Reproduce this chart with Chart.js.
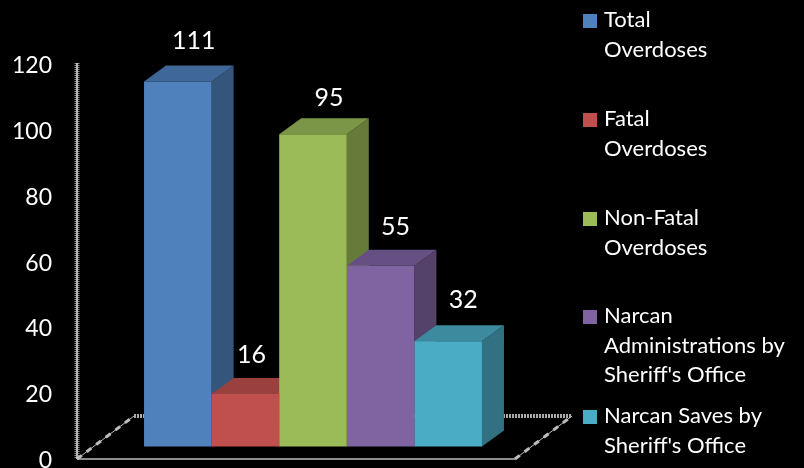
<!DOCTYPE html>
<html>
<head>
<meta charset="utf-8">
<style>html,body{margin:0;padding:0;background:#000;overflow:hidden}#wrap{width:804px;height:468px}</style>
<script src="https://cdn.jsdelivr.net/npm/chart.js@4"></script>
</head>
<body>
<div id="wrap"><canvas id="c" width="804" height="468"></canvas></div>
<script>
const categories = [""];
const seriesNames = ["Total Overdoses", "Fatal Overdoses", "Non-Fatal Overdoses", "Narcan Administrations by Sheriff's Office", "Narcan Saves by Sheriff's Office"];
const legendLines = [["Total", "Overdoses"], ["Fatal", "Overdoses"], ["Non-Fatal", "Overdoses"], ["Narcan", "Administrations by", "Sheriff's Office"], ["Narcan Saves by", "Sheriff's Office"]];
const seriesValues = [111, 16, 95, 55, 32];
const frontColors = ["#4F81BD", "#C0504D", "#9BBB59", "#8064A2", "#4BACC6"];
const topColors = ["#3F6797", "#9A403E", "#7C9647", "#664F82", "#3C8A9E"];
const sideColors = ["#34557C", "#7F3533", "#667B3A", "#54426B", "#317182"];
const labelNudges = [16, 6, 16, 15, 15];
const labelLifts = [25, 23, 20, 23, 25];
const tickMin = 0, tickMax = 120, tickStep = 20;

const FONT = "Lato, Carlito, 'Open Sans', sans-serif";
const DEPTH_X = 22, DEPTH_Y = 16;
const AXIS_X = 77, AXIS_TOP = 63, FLOOR_FRONT = 459, FLOOR_BACK = 416, FLOOR_RIGHT = 515, FLOOR_DX = 57;

function poly(ctx, pts, fill) {
  ctx.beginPath();
  pts.forEach((p, i) => i ? ctx.lineTo(p[0], p[1]) : ctx.moveTo(p[0], p[1]));
  ctx.closePath();
  ctx.fillStyle = fill;
  ctx.fill();
}

function seg(ctx, x0, y0, x1, y1) {
  ctx.beginPath(); ctx.moveTo(x0, y0); ctx.lineTo(x1, y1); ctx.stroke();
}

const floorPlugin = {
  id: "floor",
  beforeDatasetsDraw(chart) {
    const ctx = chart.ctx;
    ctx.save();
    /* value axis: a speckled grey rail */
    ctx.strokeStyle = "#8E8E8E";
    ctx.lineWidth = 5;
    ctx.setLineDash([1, 1]);
    seg(ctx, AXIS_X, AXIS_TOP, AXIS_X, FLOOR_FRONT);
    ctx.strokeStyle = "#B8B8B8";
    ctx.lineWidth = 2;
    ctx.setLineDash([]);
    seg(ctx, AXIS_X, AXIS_TOP, AXIS_X, FLOOR_FRONT);
    /* floor outline */
    ctx.strokeStyle = "#BDBDBD";
    ctx.lineWidth = 1.5;
    seg(ctx, AXIS_X, FLOOR_FRONT, FLOOR_RIGHT, FLOOR_FRONT);
    ctx.lineWidth = 1;
    seg(ctx, AXIS_X, FLOOR_FRONT, AXIS_X + FLOOR_DX, FLOOR_BACK);
    seg(ctx, FLOOR_RIGHT, FLOOR_FRONT, FLOOR_RIGHT + FLOOR_DX, FLOOR_BACK);
    ctx.lineWidth = 3;
    ctx.setLineDash([6, 6]);
    seg(ctx, AXIS_X, FLOOR_FRONT, AXIS_X + FLOOR_DX, FLOOR_BACK);
    seg(ctx, FLOOR_RIGHT, FLOOR_FRONT, FLOOR_RIGHT + FLOOR_DX, FLOOR_BACK);
    ctx.strokeStyle = "#ABABAB";
    ctx.lineWidth = 4;
    ctx.setLineDash([2, 1]);
    seg(ctx, AXIS_X + FLOOR_DX, FLOOR_BACK, FLOOR_RIGHT + FLOOR_DX, FLOOR_BACK);
    ctx.restore();
    /* side and top faces, left to right; the library then paints the fronts over them */
    chart.data.datasets.forEach((ds, i) => {
      const bar = chart.getDatasetMeta(i).data[0];
      const half = bar.width / 2, x0 = bar.x - half, x1 = bar.x + half, t = bar.y, bb = bar.base;
      poly(ctx, [[x1, t], [x1 + DEPTH_X, t - DEPTH_Y], [x1 + DEPTH_X, bb - DEPTH_Y], [x1, bb]], sideColors[i]);
      poly(ctx, [[x0, t], [x0 + DEPTH_X, t - DEPTH_Y], [x1 + DEPTH_X, t - DEPTH_Y], [x1, t]], topColors[i]);
    });
  }
};

const labelPlugin = {
  id: "valueLabels",
  afterDatasetsDraw(chart) {
    const ctx = chart.ctx;
    ctx.save();
    ctx.fillStyle = "#FFFFFF";
    ctx.font = "25px " + FONT;
    ctx.textAlign = "center";
    ctx.textBaseline = "middle";
    chart.data.datasets.forEach((ds, i) => {
      const bar = chart.getDatasetMeta(i).data[0];
      ctx.fillText(String(ds.data[0]), bar.x + labelNudges[i], bar.y - DEPTH_Y - labelLifts[i]);
    });
    ctx.restore();
  }
};

const legendPlugin = {
  id: "sideLegend",
  afterDraw(chart) {
    const ctx = chart.ctx, lineGap = 29.5, boxX = 583, textX = 604, box = 14;
    const firstLineY = [20, 119, 218, 316, 416];
    ctx.save();
    ctx.font = "22px " + FONT;
    ctx.textAlign = "left";
    ctx.textBaseline = "middle";
    legendLines.forEach((lines, i) => {
      ctx.fillStyle = frontColors[i];
      ctx.fillRect(boxX, firstLineY[i] + 1 - box / 2, box, box);
      ctx.fillStyle = "#FFFFFF";
      lines.forEach((ln, k) => ctx.fillText(ln, textX, firstLineY[i] + k * lineGap));
    });
    ctx.restore();
  }
};

const pxPerUnit = 394.6 / (tickMax - tickMin);
const barFloorShift = 14 / pxPerUnit;

new Chart(document.getElementById("c"), {
  type: "bar",
  data: {
    labels: categories,
    datasets: seriesValues.map((v, i) => ({
      label: seriesNames[i],
      data: [v],
      backgroundColor: frontColors[i],
      borderWidth: 0,
      yAxisID: "bars",
      categoryPercentage: 0.716,
      barPercentage: 1
    }))
  },
  options: {
    responsive: false,
    animation: false,
    layout: { padding: { top: 66, bottom: 7.4, left: 0, right: 255 } },
    plugins: { legend: { display: false }, tooltip: { enabled: false } },
    scales: {
      x: { display: false },
      bars: {
        display: false,
        min: tickMin - barFloorShift,
        max: tickMax - barFloorShift
      },
      y: {
        position: "left",
        min: tickMin,
        max: tickMax,
        afterFit(s) { s.width = 77; s.paddingTop = 0; s.paddingBottom = 0; },
        grid: { display: false, drawTicks: false },
        border: { display: false },
        ticks: {
          stepSize: tickStep,
          color: "#FFFFFF",
          padding: 25,
          font: { family: FONT, size: 23 }
        }
      }
    }
  },
  plugins: [floorPlugin, labelPlugin, legendPlugin,
    { id: "bg", beforeDraw(c) { c.ctx.save(); c.ctx.fillStyle = "#000"; c.ctx.fillRect(0, 0, c.width, c.height); c.ctx.restore(); } }]
});
</script>
</body>
</html>
